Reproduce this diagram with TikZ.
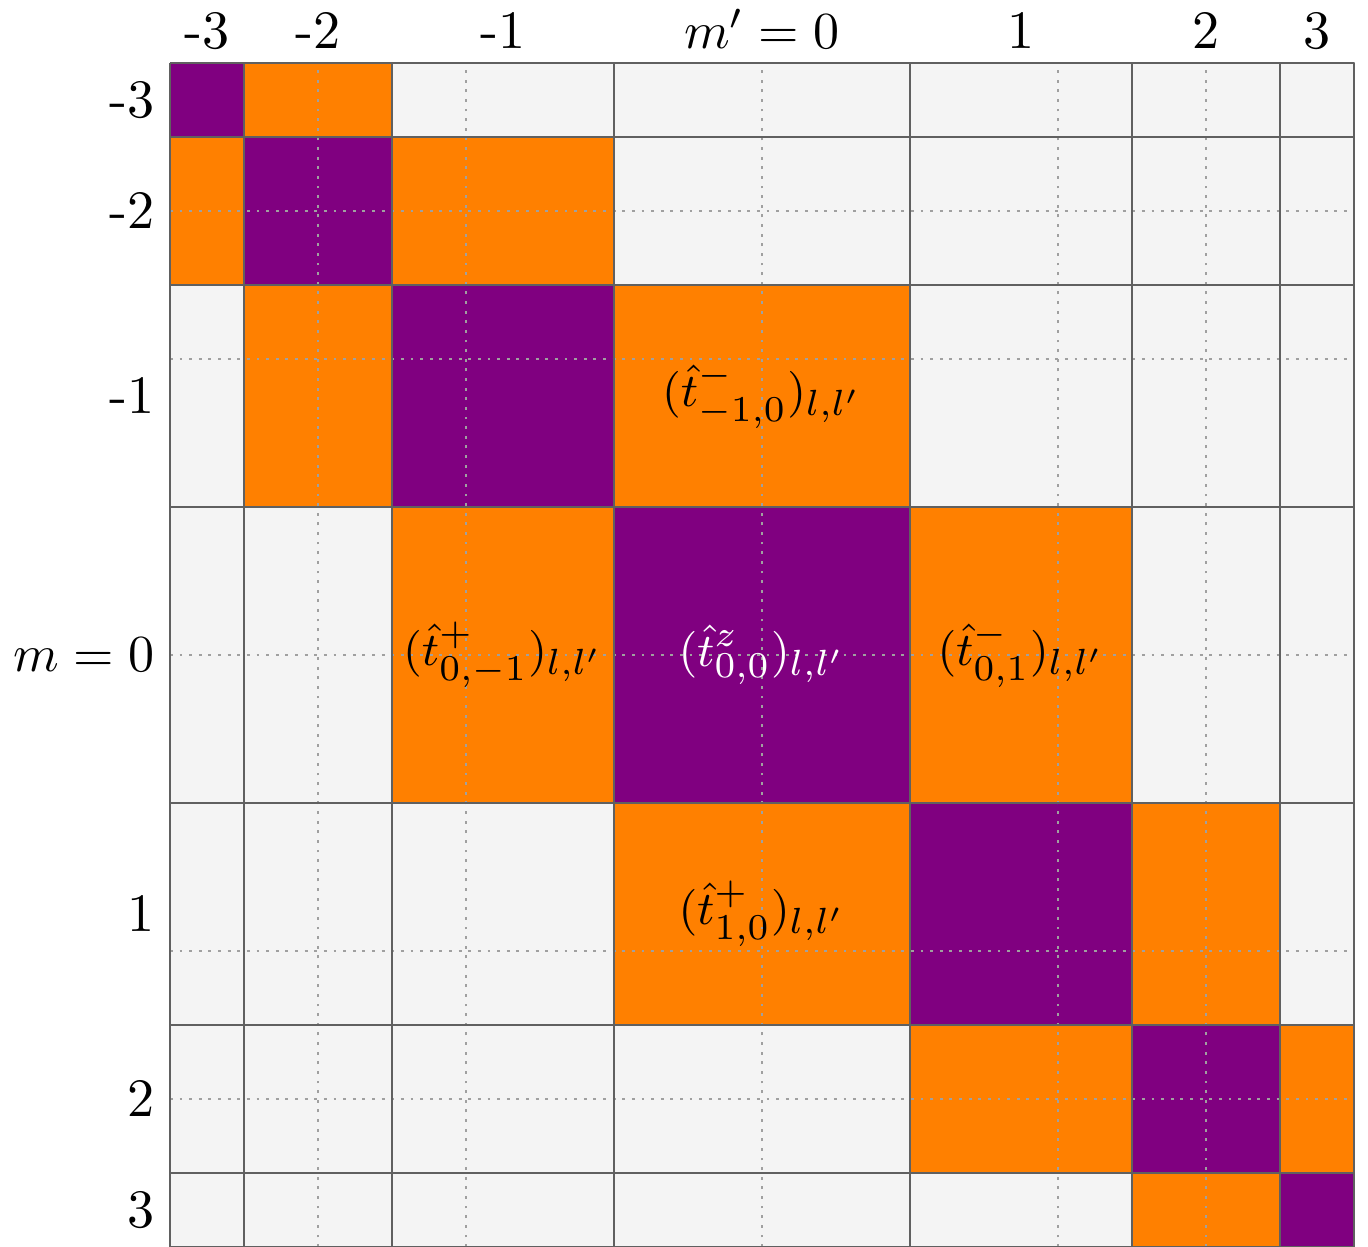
\documentclass[tikz,border=0pt]{standalone}
\usepackage{amssymb,xcolor}
\usepackage{mathtools}
\definecolor{blockpurple}{RGB}{128,0,128}
\definecolor{blockorange}{RGB}{255,128,0}
\definecolor{blockgrey}{RGB}{244,244,244}
\definecolor{blockline}{RGB}{96,96,96}
\tikzset{
  dotline/.style={blockline!60, line width=0.55pt, dash pattern=on 0.55pt off 1.3pt},
  borderline/.style={blockline, line width=0.45pt},
  lbl/.style={inner sep=0pt, font=\fontsize{10.4}{12.5}\selectfont},
  cell/.style={inner sep=0pt, font=\fontsize{9.3}{11}\selectfont}
}
\begin{document}
\begin{tikzpicture}[x=0.5cm,y=-0.5cm]
\useasboundingbox (-2.297,-0.851) rectangle (16.189,16);
%\draw[red] (0,0) rectangle (16,16);
\foreach \i/\a/\b in {0/0/1,1/1/3,2/3/6,3/6/10,4/10/13,5/13/15,6/15/16}{
  \foreach \j/\c/\d in {0/0/1,1/1/3,2/3/6,3/6/10,4/10/13,5/13/15,6/15/16}{
    \pgfmathtruncatemacro\dist{abs(\i-\j)}
    \ifnum\dist=0 \def\col{blockpurple}\else\ifnum\dist=1 \def\col{blockorange}\else\def\col{blockgrey}\fi\fi
    \fill[\col] (\c,\a) rectangle (\d,\b);
  }
}
\draw[dotline] (0,0) grid (16,16);
\foreach \p in {0,1,3,6,10,13,15,16}{
  \draw[borderline] (\p,0) -- (\p,16);
  \draw[borderline] (0,\p) -- (16,\p);
}
\foreach \n/\x/\txt in {a/0.5/-3, b/2/-2, c/4.5/-1, d/8/{$m' = 0$}, e/11.5/1, f/14/2, g/15.5/3}
  \node[lbl, anchor=base] (col\n) at (\x,-0.2) {\txt};
\foreach \n/\y/\txt in {a/0.5/-3, b/2/-2, c/4.5/-1, d/8/{$m = 0$}, e/11.5/1, f/14/2, g/15.5/3}
  \node[lbl, anchor=east] (row\n) at (-0.2,\y) {\txt};
\node[cell] (tmz) at (8,4.5) {$(\hat{t}^{-}_{-1,0})_{l,l'}$};
\node[cell] (tpl) at (4.5,8) {$(\hat{t}^{+}_{0,-1})_{l,l'}$};
\node[cell, white] (tz) at (8,8) {$(\hat{t}^{z}_{0,0})_{l,l'}$};
\node[cell] (tmr) at (11.5,8) {$(\hat{t}^{-}_{0,1})_{l,l'}$};
\node[cell] (tpz) at (8,11.5) {$(\hat{t}^{+}_{1,0})_{l,l'}$};
\end{tikzpicture}
\end{document}
